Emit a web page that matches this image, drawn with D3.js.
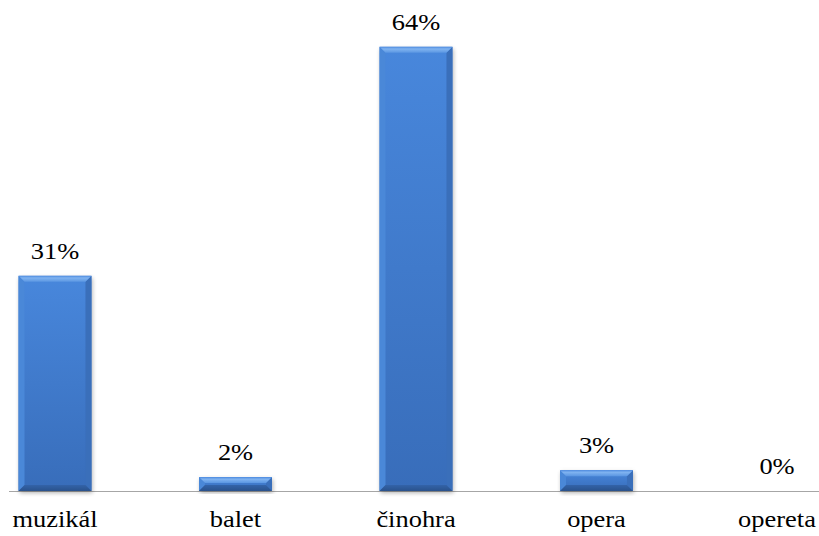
<!DOCTYPE html>
<html>
<head>
<meta charset="utf-8">
<script src="https://cdn.jsdelivr.net/npm/d3@7"></script>
<style>
  html, body { margin: 0; padding: 0; background: #fff; }
  svg { display: block; }
</style>
</head>
<body>
<script>
// Preferred type of theatre performance (share of respondents)
const categories = ["muzikál", "balet", "činohra", "opera", "opereta"];
const values = [31, 2, 64, 3, 0];
const valueLabels = ["31%", "2%", "64%", "3%", "0%"];

const W = 819, H = 536;
const baseY = 491;
const FONT = "'Liberation Serif', Tinos, 'Times New Roman', Times, serif";

const svg = d3.select("body").append("svg")
  .attr("width", W).attr("height", H);

const x = d3.scaleBand()
  .domain(categories)
  .range([-35.25, 867.25])
  .paddingInner(0.596)
  .paddingOuter(0.298);

const y = d3.scaleLinear()
  .domain([0, 70])
  .range([baseY, baseY - 70 * 6.94]);

const defs = svg.append("defs");

// soft outer shadow behind each bar
const shadow = defs.append("filter").attr("id", "barShadow")
  .attr("x", "-20%").attr("y", "-20%").attr("width", "140%").attr("height", "140%");
shadow.append("feGaussianBlur").attr("in", "SourceAlpha").attr("stdDeviation", 2).attr("result", "b");
shadow.append("feOffset").attr("in", "b").attr("dx", 1).attr("dy", 1.5).attr("result", "o");
shadow.append("feComponentTransfer").attr("in", "o")
  .append("feFuncA").attr("type", "linear").attr("slope", 0.3);

const face = defs.append("linearGradient").attr("id", "faceGrad")
  .attr("x1", 0).attr("y1", 0).attr("x2", 0).attr("y2", 1);
face.append("stop").attr("offset", "0%").attr("stop-color", "#4887dc");
face.append("stop").attr("offset", "100%").attr("stop-color", "#386dba");

const topG = defs.append("linearGradient").attr("id", "topGrad")
  .attr("x1", 0).attr("y1", 0).attr("x2", 0).attr("y2", 1);
topG.append("stop").attr("offset", "0%").attr("stop-color", "#4d8be0");
topG.append("stop").attr("offset", "35%").attr("stop-color", "#80b3f0");
topG.append("stop").attr("offset", "100%").attr("stop-color", "#5a96e2");

const botG = defs.append("linearGradient").attr("id", "botGrad")
  .attr("x1", 0).attr("y1", 0).attr("x2", 0).attr("y2", 1);
botG.append("stop").attr("offset", "0%").attr("stop-color", "#3363a8");
botG.append("stop").attr("offset", "100%").attr("stop-color", "#2a528c");

// baseline
svg.append("line")
  .attr("x1", 9).attr("x2", W).attr("y1", baseY + 0.5).attr("y2", baseY + 0.5)
  .attr("stroke", "#a6a6a6").attr("stroke-width", 1);

const bars = svg.selectAll("g.bar")
  .data(categories.map((c, i) => ({ c, v: values[i], label: valueLabels[i] })))
  .join("g").attr("class", "bar");

bars.each(function (d) {
  if (d.v <= 0) return;
  const g = d3.select(this);
  const x0 = x(d.c), x1 = x0 + x.bandwidth();
  const y0 = y(d.v), y1 = y(0);
  const h = y1 - y0;
  const b = Math.min(6, h / 2 - 1);

  g.append("rect").attr("x", x0).attr("y", y0).attr("width", x1 - x0).attr("height", h)
    .attr("fill", "#000").attr("filter", "url(#barShadow)");
  g.append("rect").attr("x", x0).attr("y", y0).attr("width", x1 - x0).attr("height", h)
    .attr("fill", "url(#faceGrad)");

  const poly = (pts, fill) => g.append("polygon")
    .attr("points", pts.map(p => p.join(",")).join(" ")).attr("fill", fill);
  // left and right bevels
  poly([[x0, y0], [x0 + b, y0 + b], [x0 + b, y1 - b], [x0, y1]], "#4a88d8");
  poly([[x1, y0], [x1 - b, y0 + b], [x1 - b, y1 - b], [x1, y1]], "#3a6fba");
  // top and bottom bevels
  poly([[x0, y0], [x1, y0], [x1 - b, y0 + b], [x0 + b, y0 + b]], "url(#topGrad)");
  poly([[x0, y1], [x1, y1], [x1 - b, y1 - b], [x0 + b, y1 - b]], "url(#botGrad)");
});

// value labels above bars
bars.append("text")
  .attr("transform", d => `translate(${x(d.c) + x.bandwidth() / 2},${y(d.v) - 17}) scale(1.15,1)`)
  .attr("text-anchor", "middle")
  .attr("font-family", FONT)
  .attr("font-size", 23)
  .attr("fill", "#000")
  .text(d => d.label);

// category labels
svg.selectAll("text.cat")
  .data(categories)
  .join("text").attr("class", "cat")
  .attr("transform", d => `translate(${x(d) + x.bandwidth() / 2},527) scale(1.15,1)`)
  .attr("text-anchor", "middle")
  .attr("font-family", FONT)
  .attr("font-size", 23)
  .attr("fill", "#000")
  .text(d => d);
</script>
</body>
</html>
